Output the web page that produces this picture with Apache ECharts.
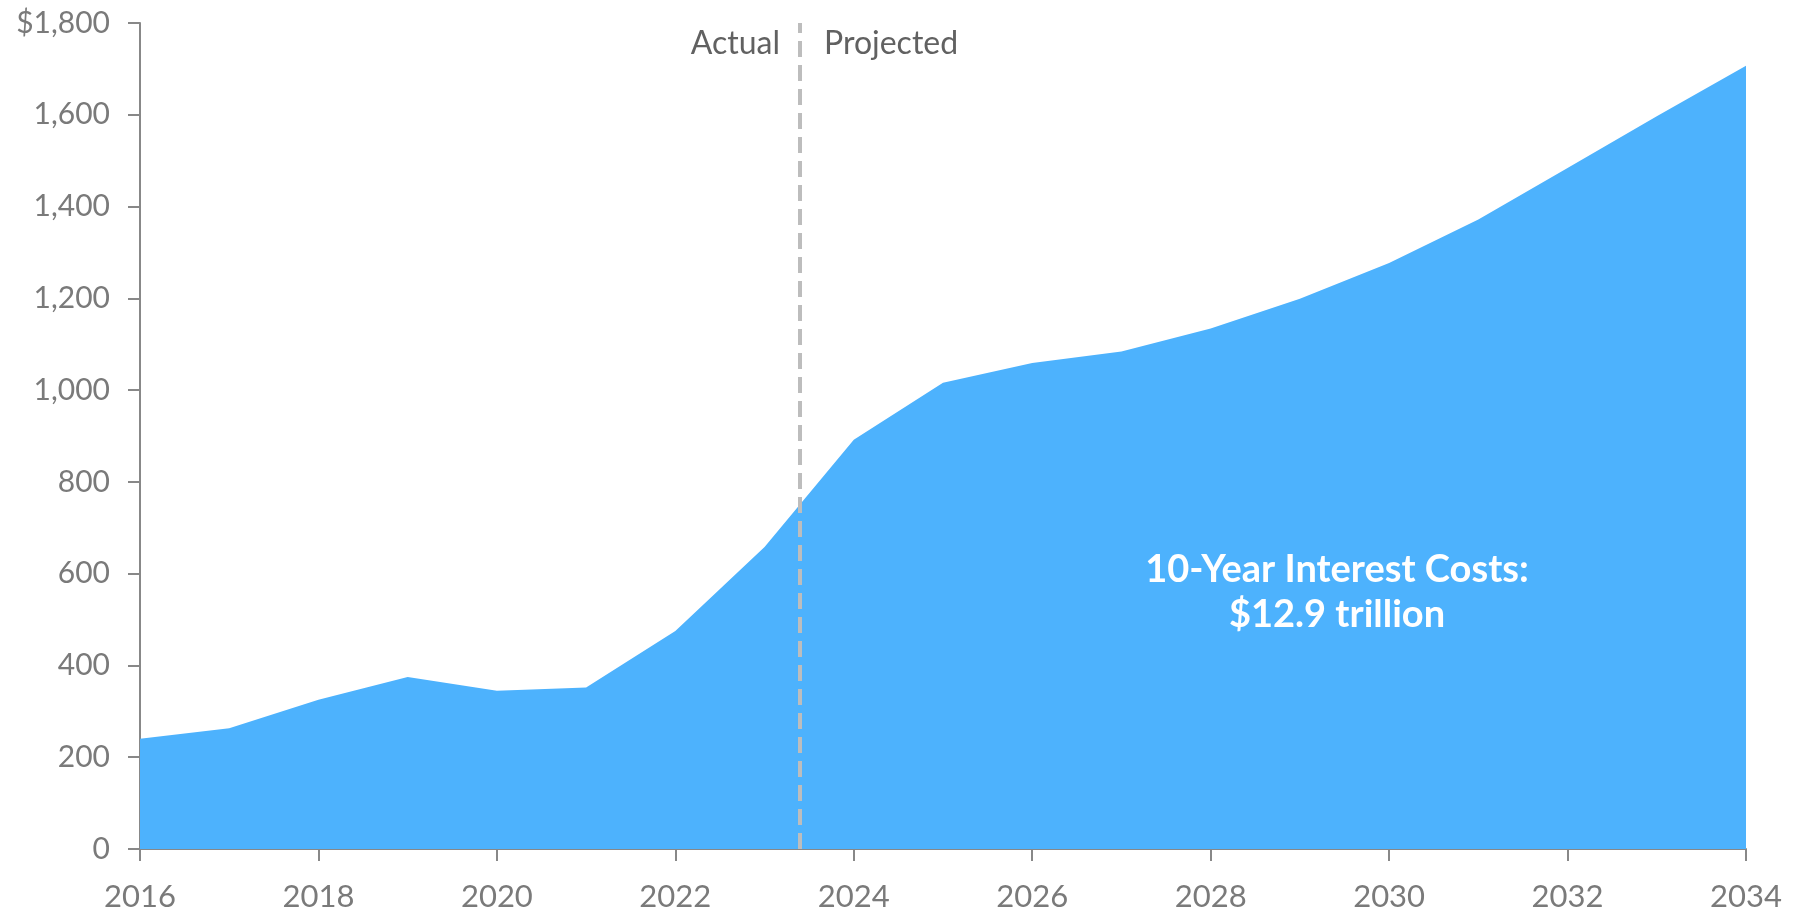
<!DOCTYPE html>
<html><head><meta charset="utf-8">
<script src="https://cdn.jsdelivr.net/npm/echarts@6/dist/echarts.min.js"></script>
<style>html,body{margin:0;padding:0;background:#fff}#c{width:1801px;height:914px}</style>
</head><body><div id="c"></div>
<script>
const years = [2016,2017,2018,2019,2020,2021,2022,2023,2024,2025,2026,2027,2028,2029,2030,2031,2032,2033,2034];
const interestCosts = [240,263,325,375,345,352,475,658,892,1016,1059,1084,1134,1199,1277,1372,1484,1597,1707];
const dividerYear = 2023.4;
const dividerLabels = ['Actual','Projected'];
const annotationLines = ['10-Year Interest Costs:','$12.9 trillion'];

const chart = echarts.init(document.getElementById('c'), null, {renderer:'canvas'});
const gray = '#7a7a7a';
const font = 'Lato';
chart.setOption({
  animation:false,
  grid:{left:140,right:55,top:23,bottom:65,containLabel:false},
  xAxis:{type:'value',min:2016,max:2034,interval:2,
    axisLine:{show:true,lineStyle:{color:'#888',width:2}},
    axisTick:{show:true,length:12,lineStyle:{color:'#888',width:2}},
    axisLabel:{color:gray,fontFamily:font,fontSize:31,margin:32,formatter:v=>String(v)},
    splitLine:{show:false}},
  yAxis:{type:'value',min:0,max:1800,interval:200,
    axisLine:{show:true,lineStyle:{color:'#888',width:2}},
    axisTick:{show:true,length:12,lineStyle:{color:'#888',width:2}},
    axisLabel:{color:gray,fontFamily:font,fontSize:30,margin:30,
      formatter:v=> v===1800 ? '$1,800' : v.toLocaleString('en-US')},
    splitLine:{show:false}},
  series:[{type:'line',data:years.map((y,i)=>[y,interestCosts[i]]),
    showSymbol:false,symbol:'none',lineStyle:{width:0},
    areaStyle:{color:'#4db2fd',opacity:1},z:2,
    markLine:{silent:true,symbol:['none','none'],label:{show:false},
      lineStyle:{color:'#bdbdbd',width:4,type:[16,8]},
      data:[{xAxis:dividerYear}],z:5}
  }],
  graphic:{elements:[
    {type:'text',right:1801-780,top:28,z:100,style:{text:dividerLabels[0],fill:'#616161',font:'32px Lato'}},
    {type:'text',left:824,top:28,z:100,style:{text:dividerLabels[1],fill:'#616161',font:'32px Lato'}},
    {type:'text',x:1337,y:570,z:100,style:{text:annotationLines[0],fill:'#ffffff',font:'bold 38px Lato',textAlign:'center',textVerticalAlign:'middle'}},
    {type:'text',x:1337,y:615,z:100,style:{text:annotationLines[1],fill:'#ffffff',font:'bold 38px Lato',textAlign:'center',textVerticalAlign:'middle'}}
  ]}
});
</script></body></html>
